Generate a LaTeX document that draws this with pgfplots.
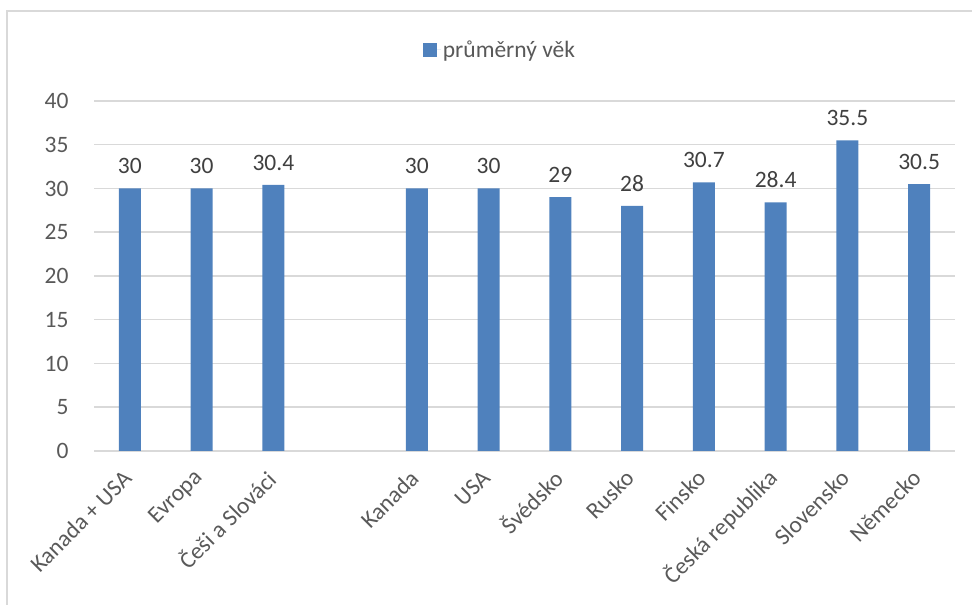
\documentclass[border=0pt]{standalone}
\usepackage{fontspec}
\setmainfont{Carlito}
\usepackage{pgfplots}
\pgfplotsset{compat=1.18}
\definecolor{barblue}{HTML}{4F81BD}
\definecolor{gridgray}{HTML}{D9D9D9}
\definecolor{txtgray}{HTML}{595959}
\definecolor{lblgray}{HTML}{404040}
\newcommand{\chartfont}{\fontsize{23.5}{28}\selectfont}

\begin{document}
\begin{tikzpicture}
  \path[use as bounding box] (0pt,0pt) rectangle (972pt,605pt);
  % chart area frame (only left and top edges visible)
  \draw[gridgray, line width=1.2pt] (7pt,0pt) -- (7pt,594pt) -- (972pt,594pt);
  \begin{axis}[
      at={(94pt,154pt)}, anchor=south west,
      scale only axis, width=861pt, height=350pt,
      ybar, bar width=22pt,
      xmin=-0.5, xmax=11.5,
      ymin=0, ymax=40,
      ytick={0,5,...,40},
      xtick={0,1,2,4,5,6,7,8,9,10,11},
      xticklabels={Kanada + USA, Evropa, Češi a Slováci, Kanada, USA,
                   Švédsko, Rusko, Finsko, Česká republika, Slovensko, Německo},
      axis line style={draw=none},
      major tick length=0pt,
      ymajorgrids,
      grid style={gridgray, line width=1.5pt},
      tick label style={font=\chartfont, text=txtgray},
      /pgf/number format/assume math mode=true,
      yticklabel style={anchor=east},
      yticklabel shift=22pt,
      xticklabel style={rotate=45, anchor=east},
      xticklabel shift=21pt,
      nodes near coords,
      nodes near coords style={font=\chartfont, text=lblgray, anchor=south,
                               yshift=11pt,
                               /pgf/number format/fixed,
                               /pgf/number format/precision=1},
      legend style={at={(0.4715,1.1457)}, anchor=center, draw=none, fill=none,
                    font=\chartfont, text=txtgray},
      legend image code/.code={
          \fill[barblue] (0pt,-7pt) rectangle (14pt,7pt);
          \path (0pt,0pt) -- (18pt,0pt);
      },
  ]
  \addplot[fill=barblue, draw=none] coordinates {
      (0,30) (1,30) (2,30.4)
      (4,30) (5,30) (6,29) (7,28) (8,30.7) (9,28.4) (10,35.5) (11,30.5)
  };
  \addlegendentry{průměrný věk}
  \end{axis}
\end{tikzpicture}
\end{document}
